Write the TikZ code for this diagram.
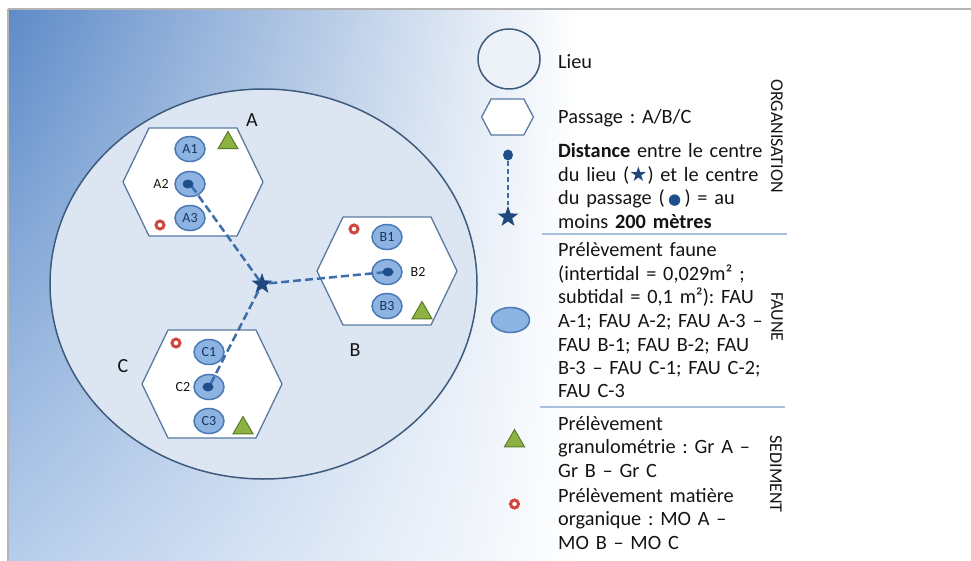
\documentclass[tikz,border=0pt]{standalone}
\usepackage{fontspec}
\setmainfont{Carlito}
\newfontfamily\symfont{DejaVu Sans}
\usetikzlibrary{shapes.geometric,shadings}
\frenchspacing
\definecolor{bgblue}{HTML}{5E8BC8}
\definecolor{bglow}{HTML}{B6CDEB}
\definecolor{frameline}{HTML}{B4B4B4}
\definecolor{lieufill}{HTML}{DCE6F2}
\definecolor{lieuleg}{HTML}{EDF2F9}
\definecolor{lieuline}{HTML}{3F5B7C}
\definecolor{hexline}{HTML}{5A7AA0}
\definecolor{faunefill}{HTML}{8DB3E2}
\definecolor{fauneline}{HTML}{4A78B4}
\definecolor{fauntext}{HTML}{17365D}
\definecolor{dotblue}{HTML}{1F4E8C}
\definecolor{starblue}{HTML}{1F497D}
\definecolor{dashblue}{HTML}{3D6DAA}
\definecolor{granfill}{HTML}{8CB342}
\definecolor{granline}{HTML}{5A7A2A}
\definecolor{mored}{HTML}{D0473F}
\definecolor{sepline}{HTML}{A9C0DC}
\definecolor{textgray}{HTML}{141414}
\begin{document}
\begin{tikzpicture}[x=1pt,y=-1pt,
  lieu/.style={ellipse, draw=lieuline, line width=1.5pt, fill=lieufill, inner sep=0pt},
  faune/.style={ellipse, draw=fauneline, line width=1.5pt, fill=faunefill,
    minimum width=30pt, minimum height=25pt, inner sep=0pt, text=fauntext,
    font=\fontsize{14}{14}\selectfont},
  fdot/.style={ellipse, fill=dotblue, minimum width=11pt, minimum height=9pt, inner sep=0pt},
  gran/.style={regular polygon, regular polygon sides=3, fill=granfill, draw=granline,
    line width=1pt, minimum size=23pt, inner sep=0pt},
  mo/.style={circle, draw=mored, line width=3pt, fill=white, minimum size=8pt, inner sep=0pt},
  lieustar/.style={star, star points=5, star point ratio=2.5, fill=starblue,
    minimum size=22pt, inner sep=0pt},
  link/.style={dashblue, line width=2.5pt, dash pattern=on 8pt off 4pt},
  passlabel/.style={text=textgray, font=\fontsize{20}{20}\selectfont},
  ptlabel/.style={text=textgray, font=\fontsize{14}{14}\selectfont},
  legtext/.style={anchor=base west, text width=230pt, align=left, inner sep=0pt,
    text=textgray, font=\fontsize{20.3}{23.5}\selectfont},
  sidelabel/.style={rotate=-90, text=textgray, font=\fontsize{18}{18}\selectfont},
  passage/.pic={\draw[hexline, line width=1.3pt, fill=white]
    (-70,0) -- (-44,-54) -- (44,-54) -- (70,0) -- (44,54) -- (-44,54) -- cycle;}
]
\useasboundingbox (0,0) rectangle (971,561);
% background
\fill[white] (0,0) rectangle (971,561);
\shade[upper left=bgblue, upper right=white, lower left=bglow, lower right=white]
  (9,9) rectangle (580,561);
\draw[frameline, line width=1.5pt] (8,9) -- (971,9);
\draw[frameline, line width=1.5pt] (8,9) -- (8,561);

% lieu and passages
\node[lieu, minimum width=427pt, minimum height=390pt] (lieu) at (263.5,284) {};
\pic (hexA) at (193,182) {passage};
\pic (hexB) at (387,271) {passage};
\pic (hexC) at (212,384) {passage};
\node[passlabel] (labA) at (252,120) {A};
\node[passlabel] (labB) at (355,350) {B};
\node[passlabel] (labC) at (123,366) {C};

% faune samples
\foreach \n/\cx/\cy in {A/190/149, B/387/237, C/209/352} {
  \node[faune] (\n1) at (\cx,\cy) {\n1};
  \node[faune] (\n2) at (\cx,\cy+35) {};
  \node[faune] (\n3) at (\cx,\cy+69) {\n3};
}
\node[ptlabel] (labA2) at (161,184) {A2};
\node[ptlabel] (labB2) at (418,272) {B2};
\node[ptlabel] (labC2) at (183,387) {C2};

% distances
\node[lieustar] (centre) at (262,284) {};
\foreach \n in {A,B,C}
  \draw[link] (centre) -- (\n2.center);
\foreach \n/\dx in {A/-2, B/1, C/-1}
  \node[fdot] (\n2d) at ([xshift=\dx pt]\n2.center) {};

% sediment
\node[gran] (grA) at (228,143) {};
\node[gran] (grB) at (422,313) {};
\node[gran] (grC) at (243,428) {};
\node[mo] (moA) at (160,225) {};
\node[mo] (moB) at (354,229) {};
\node[mo] (moC) at (176,343) {};

% legend
\node[lieu, minimum width=62pt, minimum height=60pt, fill=lieuleg] (legL) at (509,59) {};
\pic[xscale=0.37, yscale=0.335] (legP) at (507.5,117) {passage};
\node[fdot, minimum width=10pt, minimum height=11pt] (legD) at (508,155) {};
\node[lieustar] (legS) at (508,217) {};
\draw[link, line width=2pt, dash pattern=on 5pt off 3pt] (legD) -- (legS);
\node[faune, minimum width=38pt, minimum height=25pt] (legF) at (510.5,320) {};
\node[gran] (legG) at (514.5,441) {};
\node[mo] (legM) at (514.5,504) {};

\node[legtext] (txtL) at (558,69) {Lieu};
\node[legtext] (txtP) at (558,124) {Passage : A/B/C};
\node[legtext] (txtD) at (558,158) {\textbf{Distance} entre le centre\\
  du lieu ({\symfont\textcolor{starblue}{★}}) et le centre\\
  du passage (\,{\symfont\fontsize{15}{15}\selectfont\textcolor{dotblue}{●}}\,) = au\\
  moins \textbf{200 mètres}};
\node[legtext] (txtF) at (558,257) {Prélèvement faune\\
  (intertidal = 0,029m² ;\\
  subtidal = 0,1 m²): FAU\\
  A-1; FAU A-2; FAU A-3 –\\
  FAU B-1; FAU B-2; FAU\\
  B-3 – FAU C-1; FAU C-2;\\
  FAU C-3};
\node[legtext] (txtG) at (558,430) {Prélèvement\\
  granulométrie : Gr A –\\
  Gr B – Gr C};
\node[legtext] (txtM) at (558,502) {Prélèvement matière\\
  organique : MO A –\\
  MO B – MO C};

\draw[sepline, line width=1.2pt] (542,234) -- (787,234);
\draw[sepline, line width=1.2pt] (540,407) -- (785,407);

\node[sidelabel] (sideO) at (777,136) {ORGANISATION};
\node[sidelabel] (sideF) at (777,317) {FAUNE};
\node[sidelabel] (sideS) at (776,474) {SEDIMENT};
\end{tikzpicture}
\end{document}
